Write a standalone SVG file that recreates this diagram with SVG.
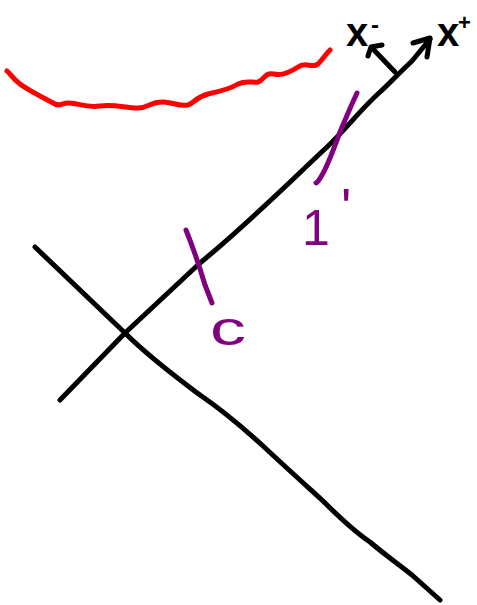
<svg xmlns="http://www.w3.org/2000/svg" width="477" height="605" viewBox="0 0 477 605">
<style>
.ink{fill:none;stroke-linecap:round;stroke-linejoin:round;stroke-width:5}
.blk{stroke:#000}
.red{stroke:#ff0000}
.pur{stroke:#800080}
.lbl{font-family:"Liberation Sans",Arial,sans-serif;font-weight:bold}
.plbl{font-family:"Liberation Sans",Arial,sans-serif;fill:#800080}
</style>
<rect width="477" height="605" fill="#fff"/>
<g id="red-curve">
<path class="ink red" d="M7,71 C10,73 13,79 20,84 C28,90 40,96 55,104 C60,107 63,102 70,103 C80,104 88,108 100,106 C115,104 125,108 138,108 C148,108 150,102 162,102 C170,101 178,107 188,105 C194,103 196,97 208,94 C222,91 230,89 238,84 C246,80 252,83 258,82 C265,80 264,72 274,74 C282,76 292,71 298,67 C306,61 312,69 318,64 C322,60 326,54 330,50"/>
</g>
<g id="axis-lines">
<path class="ink blk" d="M60,400 L125,333 L200,263 C250,222 300,172 327,147 C345,130 362,108 380,92 C388,85 396,76 412,61 L430,39"/>
<path class="ink blk" d="M413,43 L430,38 L427,57"/>
<path class="ink blk" d="M395,72 L372,48"/>
<path class="ink blk" d="M368,56 L371,47 L382,45"/>
<path class="ink blk" d="M35,247 L125,333 C150,358 180,380 200,395 C222,410 240,425 262,445 C280,462 300,480 322,500 C340,518 355,532 370,542 C385,555 400,565 412,575 L440,600"/>
</g>
<g id="purple-marks">
<path class="ink pur" d="M357,93 C350,108 345,120 340,132 C334,148 328,165 322,175 C319,180 318,182 316,183"/>
<path class="ink pur" d="M186,230 C192,245 200,268 205,285 L212,303"/>
</g>
<g id="labels">
<text class="lbl" x="346" y="46" font-size="40">x</text>
<text class="lbl" x="371" y="33" font-size="24">-</text>
<text class="lbl" x="437" y="46" font-size="40">x</text>
<text class="lbl" x="458" y="30" font-size="22">+</text>
<text class="plbl" x="302" y="245" font-size="50">1<tspan x="341" y="226" font-size="54">'</tspan></text>
<text class="plbl" transform="translate(210,345) scale(1.5,1)" x="0" y="0" font-size="48">c</text>
</g>
</svg>
